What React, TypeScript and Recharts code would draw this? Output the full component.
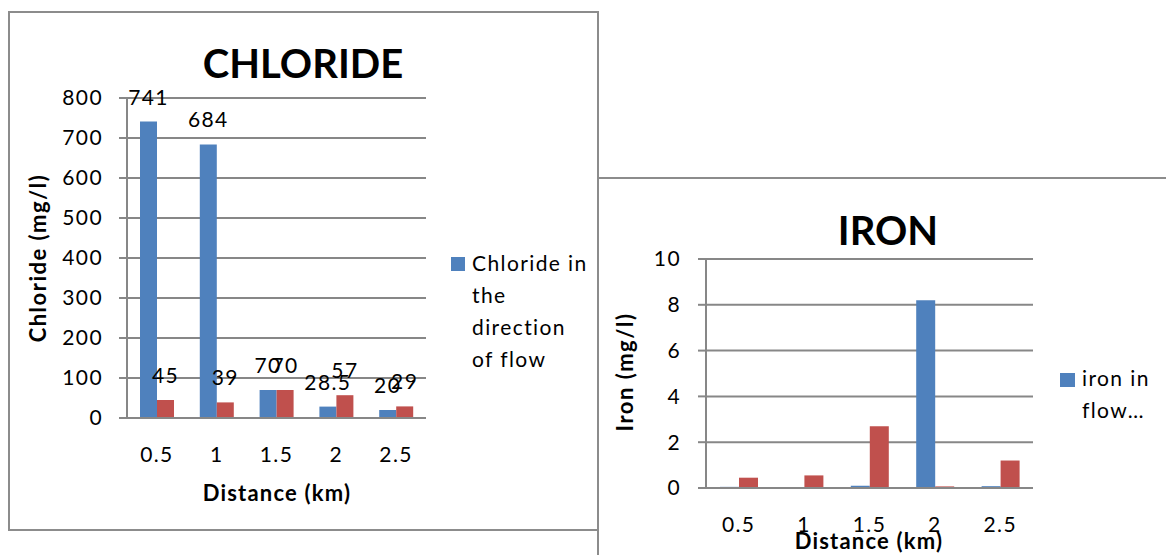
import React from "react";
import { BarChart, Bar, XAxis, YAxis, CartesianGrid, LabelList } from "recharts";

const distances = ["0.5", "1", "1.5", "2", "2.5"];
const chlorideFlow = [741, 684, 70, 28.5, 20];
const chlorideOther = [45, 39, 70, 57, 29];
const chlorideTicks = [0, 100, 200, 300, 400, 500, 600, 700, 800];

const ironFlow = [0.05, 0, 0.1, 8.2, 0.08];
const ironOther = [0.45, 0.55, 2.7, 0.07, 1.2];
const ironTicks = [0, 2, 4, 6, 8, 10];

const chlorideLegendLines = ["Chloride in", "the", "direction", "of flow"];
const ironLegendLines = ["iron in", "flow…"];

const BLUE = "#4F81BD";
const RED = "#C0504D";
const GRID = "#878787";
const FONT = "Lato, 'Open Sans', sans-serif";

const chlorideData = distances.map((d, i) => ({ d, flow: chlorideFlow[i], other: chlorideOther[i] }));
const ironData = distances.map((d, i) => ({ d, flow: ironFlow[i], other: ironOther[i] }));

const tickStyle = { fontSize: 21, fill: "#000", fontFamily: FONT, letterSpacing: 1.4 };

export default function App() {
  return (
    <div
      style={{
        position: "absolute",
        left: 0,
        top: 0,
        width: 1166,
        height: 555,
        overflow: "hidden",
        background: "#fff",
        fontFamily: FONT,
      }}
    >
      <div
        style={{
          position: "absolute",
          left: 8,
          top: 11,
          width: 591,
          height: 520,
          border: "2px solid #8c8c8c",
          boxSizing: "border-box",
        }}
      />
      <div
        style={{
          position: "absolute",
          left: 597,
          top: 177,
          width: 700,
          height: 500,
          border: "2px solid #8c8c8c",
          boxSizing: "border-box",
        }}
      />

      <div style={{ position: "absolute", left: 0, top: 0 }}>
        <BarChart
          width={599}
          height={531}
          data={chlorideData}
          margin={{ top: 98, right: 173, bottom: 73, left: 0 }}
          barSize={17}
          barGap={0}
        >
          <CartesianGrid vertical={false} stroke={GRID} strokeWidth={2} />
          <XAxis
            dataKey="d"
            height={40}
            tickLine={false}
            tickSize={0}
            tickMargin={29}
            axisLine={{ stroke: GRID, strokeWidth: 2 }}
            tick={tickStyle}
            interval={0}
          />
          <YAxis
            width={127}
            domain={[0, 800]}
            ticks={chlorideTicks}
            interval={0}
            tickSize={8}
            tickMargin={16}
            axisLine={{ stroke: GRID, strokeWidth: 2 }}
            tickLine={{ stroke: GRID, strokeWidth: 2 }}
            tick={tickStyle}
          />
          <Bar dataKey="flow" fill={BLUE} isAnimationActive={false}>
            <LabelList
              dataKey="flow"
              position="top"
              offset={17}
              fill="#000"
              fontSize={21}
              fontFamily={FONT}
              letterSpacing={1.4}
            />
          </Bar>
          <Bar dataKey="other" fill={RED} isAnimationActive={false}>
            <LabelList
              dataKey="other"
              position="top"
              offset={17}
              fill="#000"
              fontSize={21}
              fontFamily={FONT}
              letterSpacing={1.4}
            />
          </Bar>
        </BarChart>
      </div>

      <div style={{ position: "absolute", left: 598, top: 178 }}>
        <BarChart
          width={568}
          height={377}
          data={ironData}
          margin={{ top: 81, right: 133, bottom: 27, left: 0 }}
          barSize={19}
          barGap={0}
        >
          <CartesianGrid vertical={false} stroke={GRID} strokeWidth={2} />
          <XAxis
            dataKey="d"
            height={40}
            tickLine={false}
            tickSize={0}
            tickMargin={29}
            axisLine={{ stroke: GRID, strokeWidth: 2 }}
            tick={tickStyle}
            interval={0}
          />
          <YAxis
            width={108}
            domain={[0, 10]}
            ticks={ironTicks}
            interval={0}
            tickSize={8}
            tickMargin={17}
            axisLine={{ stroke: GRID, strokeWidth: 2 }}
            tickLine={{ stroke: GRID, strokeWidth: 2 }}
            tick={tickStyle}
          />
          <Bar dataKey="flow" fill={BLUE} isAnimationActive={false} />
          <Bar dataKey="other" fill={RED} isAnimationActive={false} />
        </BarChart>
      </div>

      <svg
        width={1166}
        height={555}
        style={{ position: "absolute", left: 0, top: 0, pointerEvents: "none" }}
        fontFamily={FONT}
      >
        <text x={303} y={78} textAnchor="middle" fontSize={40} fontWeight="bold" fill="#000">
          CHLORIDE
        </text>
        <text x={277} y={501} textAnchor="middle" fontSize={22} fontWeight="bold" fill="#000" letterSpacing={1.2}>
          Distance (km)
        </text>
        <text
          x={46}
          y={258}
          transform="rotate(-90 46 258)"
          textAnchor="middle"
          fontSize={22}
          fontWeight="bold"
          fill="#000"
          letterSpacing={1.5}
        >
          Chloride (mg/l)
        </text>
        <rect x={451} y={257} width={14} height={14} fill={BLUE} />
        {chlorideLegendLines.map((l, i) => (
          <text key={l} x={472} y={271 + i * 32} fontSize={21} fill="#000" letterSpacing={1.4}>
            {l}
          </text>
        ))}

        <text x={888} y={245} textAnchor="middle" fontSize={40} fontWeight="bold" fill="#000">
          IRON
        </text>
        <text x={869} y={549} textAnchor="middle" fontSize={22} fontWeight="bold" fill="#000" letterSpacing={1.2}>
          Distance (km)
        </text>
        <text
          x={633}
          y={372}
          transform="rotate(-90 633 372)"
          textAnchor="middle"
          fontSize={22}
          fontWeight="bold"
          fill="#000"
          letterSpacing={1.5}
        >
          Iron (mg/l)
        </text>
        <rect x={1060} y={373} width={15} height={14} fill={BLUE} />
        {ironLegendLines.map((l, i) => (
          <text key={l} x={1082} y={386 + i * 32} fontSize={21} fill="#000" letterSpacing={1.4}>
            {l}
          </text>
        ))}
      </svg>
    </div>
  );
}
